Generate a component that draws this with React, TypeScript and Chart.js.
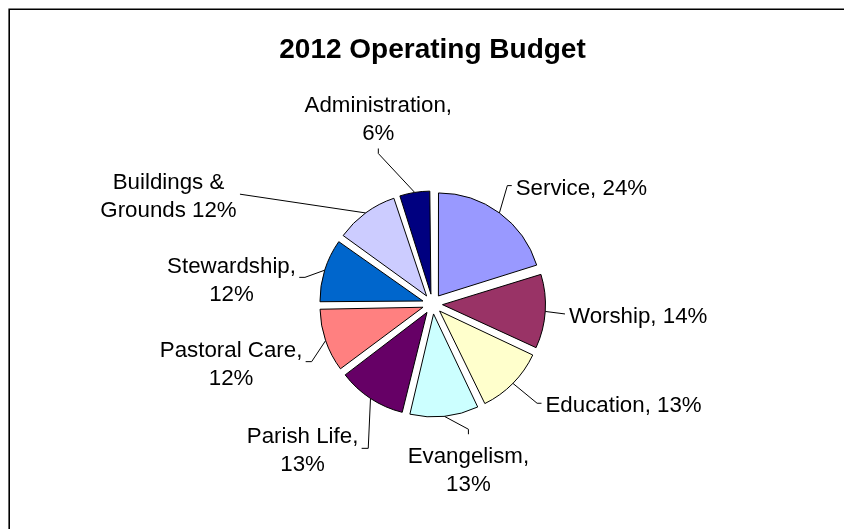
import React, { useEffect, useRef } from "react";
import { Chart, registerables } from "chart.js";

Chart.register(...registerables);

// ---- data ----
const TITLE = "2012 Operating Budget";
const CATEGORIES = [
  "Service",
  "Worship",
  "Education",
  "Evangelism",
  "Parish Life",
  "Pastoral Care",
  "Stewardship",
  "Buildings & Grounds",
  "Administration",
];
const VALUES = [24, 14, 13, 13, 13, 12, 12, 12, 6];
const LABEL_TEXT = [
  ["Service, 24%"],
  ["Worship, 14%"],
  ["Education, 13%"],
  ["Evangelism,", "13%"],
  ["Parish Life,", "13%"],
  ["Pastoral Care,", "12%"],
  ["Stewardship,", "12%"],
  ["Buildings &", "Grounds 12%"],
  ["Administration,", "6%"],
];

// ---- styles ----
const COLORS = [
  "#9999FF",
  "#993366",
  "#FFFFCC",
  "#CCFFFF",
  "#660066",
  "#FF8080",
  "#0066CC",
  "#CCCCFF",
  "#000080",
];
const FONT = "'Liberation Sans', Arial, Helvetica, sans-serif";

// ---- label layout (polar, relative to pie centre: degrees clockwise from 12 o'clock, distance in radii) ----
const LABEL_ANGLE = [32.3, 94.3, 133.5, 164, 204, 244.5, 281.8, 299.7, 340.2];
const LABEL_DIST = [1.36, 1.29, 1.4, 1.265, 1.534, 1.3, 1.265, 2.152, 1.553];
const LABEL_SIDE = ["right", "right", "right", "below", "left", "left", "left", "left", "above"];
const LABEL_TICK = [4.4, 0, 4.4, 5, 6.6, 6, 5.7, 0, 5];

const PIE_R = 103;
const EXPLODE = 10;

const framePlugin = {
  id: "frame",
  beforeDraw(chart: any) {
    const ctx = chart.ctx;
    ctx.save();
    ctx.strokeStyle = "#000";
    ctx.lineWidth = 1.6;
    ctx.beginPath();
    ctx.moveTo(chart.width, 9.2);
    ctx.lineTo(9.2, 9.2);
    ctx.lineTo(9.2, chart.height);
    ctx.stroke();
    ctx.restore();
  },
};

// Chart.js grows the radius of offset arcs by (offset/4)*(1-sin(circumference)); keep all slices equal
const radiusPlugin = {
  id: "equalRadius",
  beforeDatasetsDraw(chart: any) {
    const meta = chart.getDatasetMeta(0);
    meta.data.forEach((a: any) => {
      const fix = 1 - Math.sin(Math.min(Math.PI, a.circumference));
      a.outerRadius = PIE_R - EXPLODE * fix;
    });
  },
};

const labelPlugin = {
  id: "pieLabels",
  afterDatasetsDraw(chart: any) {
    const ctx = chart.ctx;
    const meta = chart.getDatasetMeta(0);
    ctx.save();
    ctx.font = `22.3px ${FONT}`;
    ctx.fillStyle = "#000";
    ctx.strokeStyle = "#000";
    ctx.lineWidth = 1;
    ctx.textAlign = "center";
    ctx.textBaseline = "middle";
    const lh = 28;
    meta.data.forEach((a: any, i: number) => {
      const mid = (a.startAngle + a.endAngle) / 2;
      const sx = a.x + Math.cos(mid) * (EXPLODE + PIE_R);
      const sy = a.y + Math.sin(mid) * (EXPLODE + PIE_R);
      const th = (LABEL_ANGLE[i] * Math.PI) / 180;
      const ex = a.x + LABEL_DIST[i] * PIE_R * Math.sin(th);
      const ey = a.y - LABEL_DIST[i] * PIE_R * Math.cos(th);
      const side = LABEL_SIDE[i];
      const tick = LABEL_TICK[i];
      let tx = ex;
      let ty = ey;
      if (side === "right") tx = ex + tick;
      else if (side === "left") tx = ex - tick;
      else if (side === "below") ty = ey + tick;
      else ty = ey - tick;

      ctx.beginPath();
      ctx.moveTo(sx, sy);
      ctx.lineTo(ex, ey);
      ctx.lineTo(tx, ty);
      ctx.stroke();

      const lines = LABEL_TEXT[i];
      const n = lines.length;
      const maxW = Math.max(...lines.map((l) => ctx.measureText(l).width));
      let cx = tx;
      let ys: number[] = [];
      if (side === "right" || side === "left") {
        cx = side === "right" ? tx + 4 + maxW / 2 : tx - 3.3 - maxW / 2;
        const cy = ty + 3;
        ys = lines.map((_, k) => cy + (k - (n - 1) / 2) * lh);
      } else if (side === "below") {
        ys = lines.map((_, k) => ty + 22.4 + k * lh);
      } else {
        ys = lines.map((_, k) => ty - 15 - (n - 1 - k) * lh);
      }
      lines.forEach((l, k) => ctx.fillText(l, cx, ys[k]));
    });
    ctx.restore();
  },
};

export default function App() {
  const ref = useRef<HTMLCanvasElement | null>(null);
  useEffect(() => {
    if (!ref.current) return;
    const chart = new Chart(ref.current, {
      type: "pie",
      data: {
        labels: CATEGORIES,
        datasets: [
          {
            data: VALUES,
            backgroundColor: COLORS,
            borderColor: "#000",
            borderWidth: 1,
            offset: EXPLODE * 4,
            hoverOffset: EXPLODE * 4,
            borderJoinStyle: "miter",
          } as any,
        ],
      },
      options: {
        animation: false,
        responsive: false,
        devicePixelRatio: 1,
        radius: PIE_R,
        layout: { padding: { left: 21, right: 0, top: 0, bottom: 0 } },
        events: [],
        plugins: {
          legend: { display: false },
          tooltip: { enabled: false },
          title: {
            display: true,
            text: TITLE,
            color: "#000",
            font: { family: FONT, size: 28, weight: "bold" },
            padding: { top: 33.2, bottom: 12.2 },
          },
        },
      } as any,
      plugins: [framePlugin, radiusPlugin, labelPlugin],
    });
    return () => chart.destroy();
  }, []);
  return (
    <div style={{ position: "absolute", left: 0, top: 0, width: 844, height: 529, background: "#fff" }}>
      <canvas ref={ref} width={844} height={529} style={{ display: "block", width: 844, height: 529 }} />
    </div>
  );
}
